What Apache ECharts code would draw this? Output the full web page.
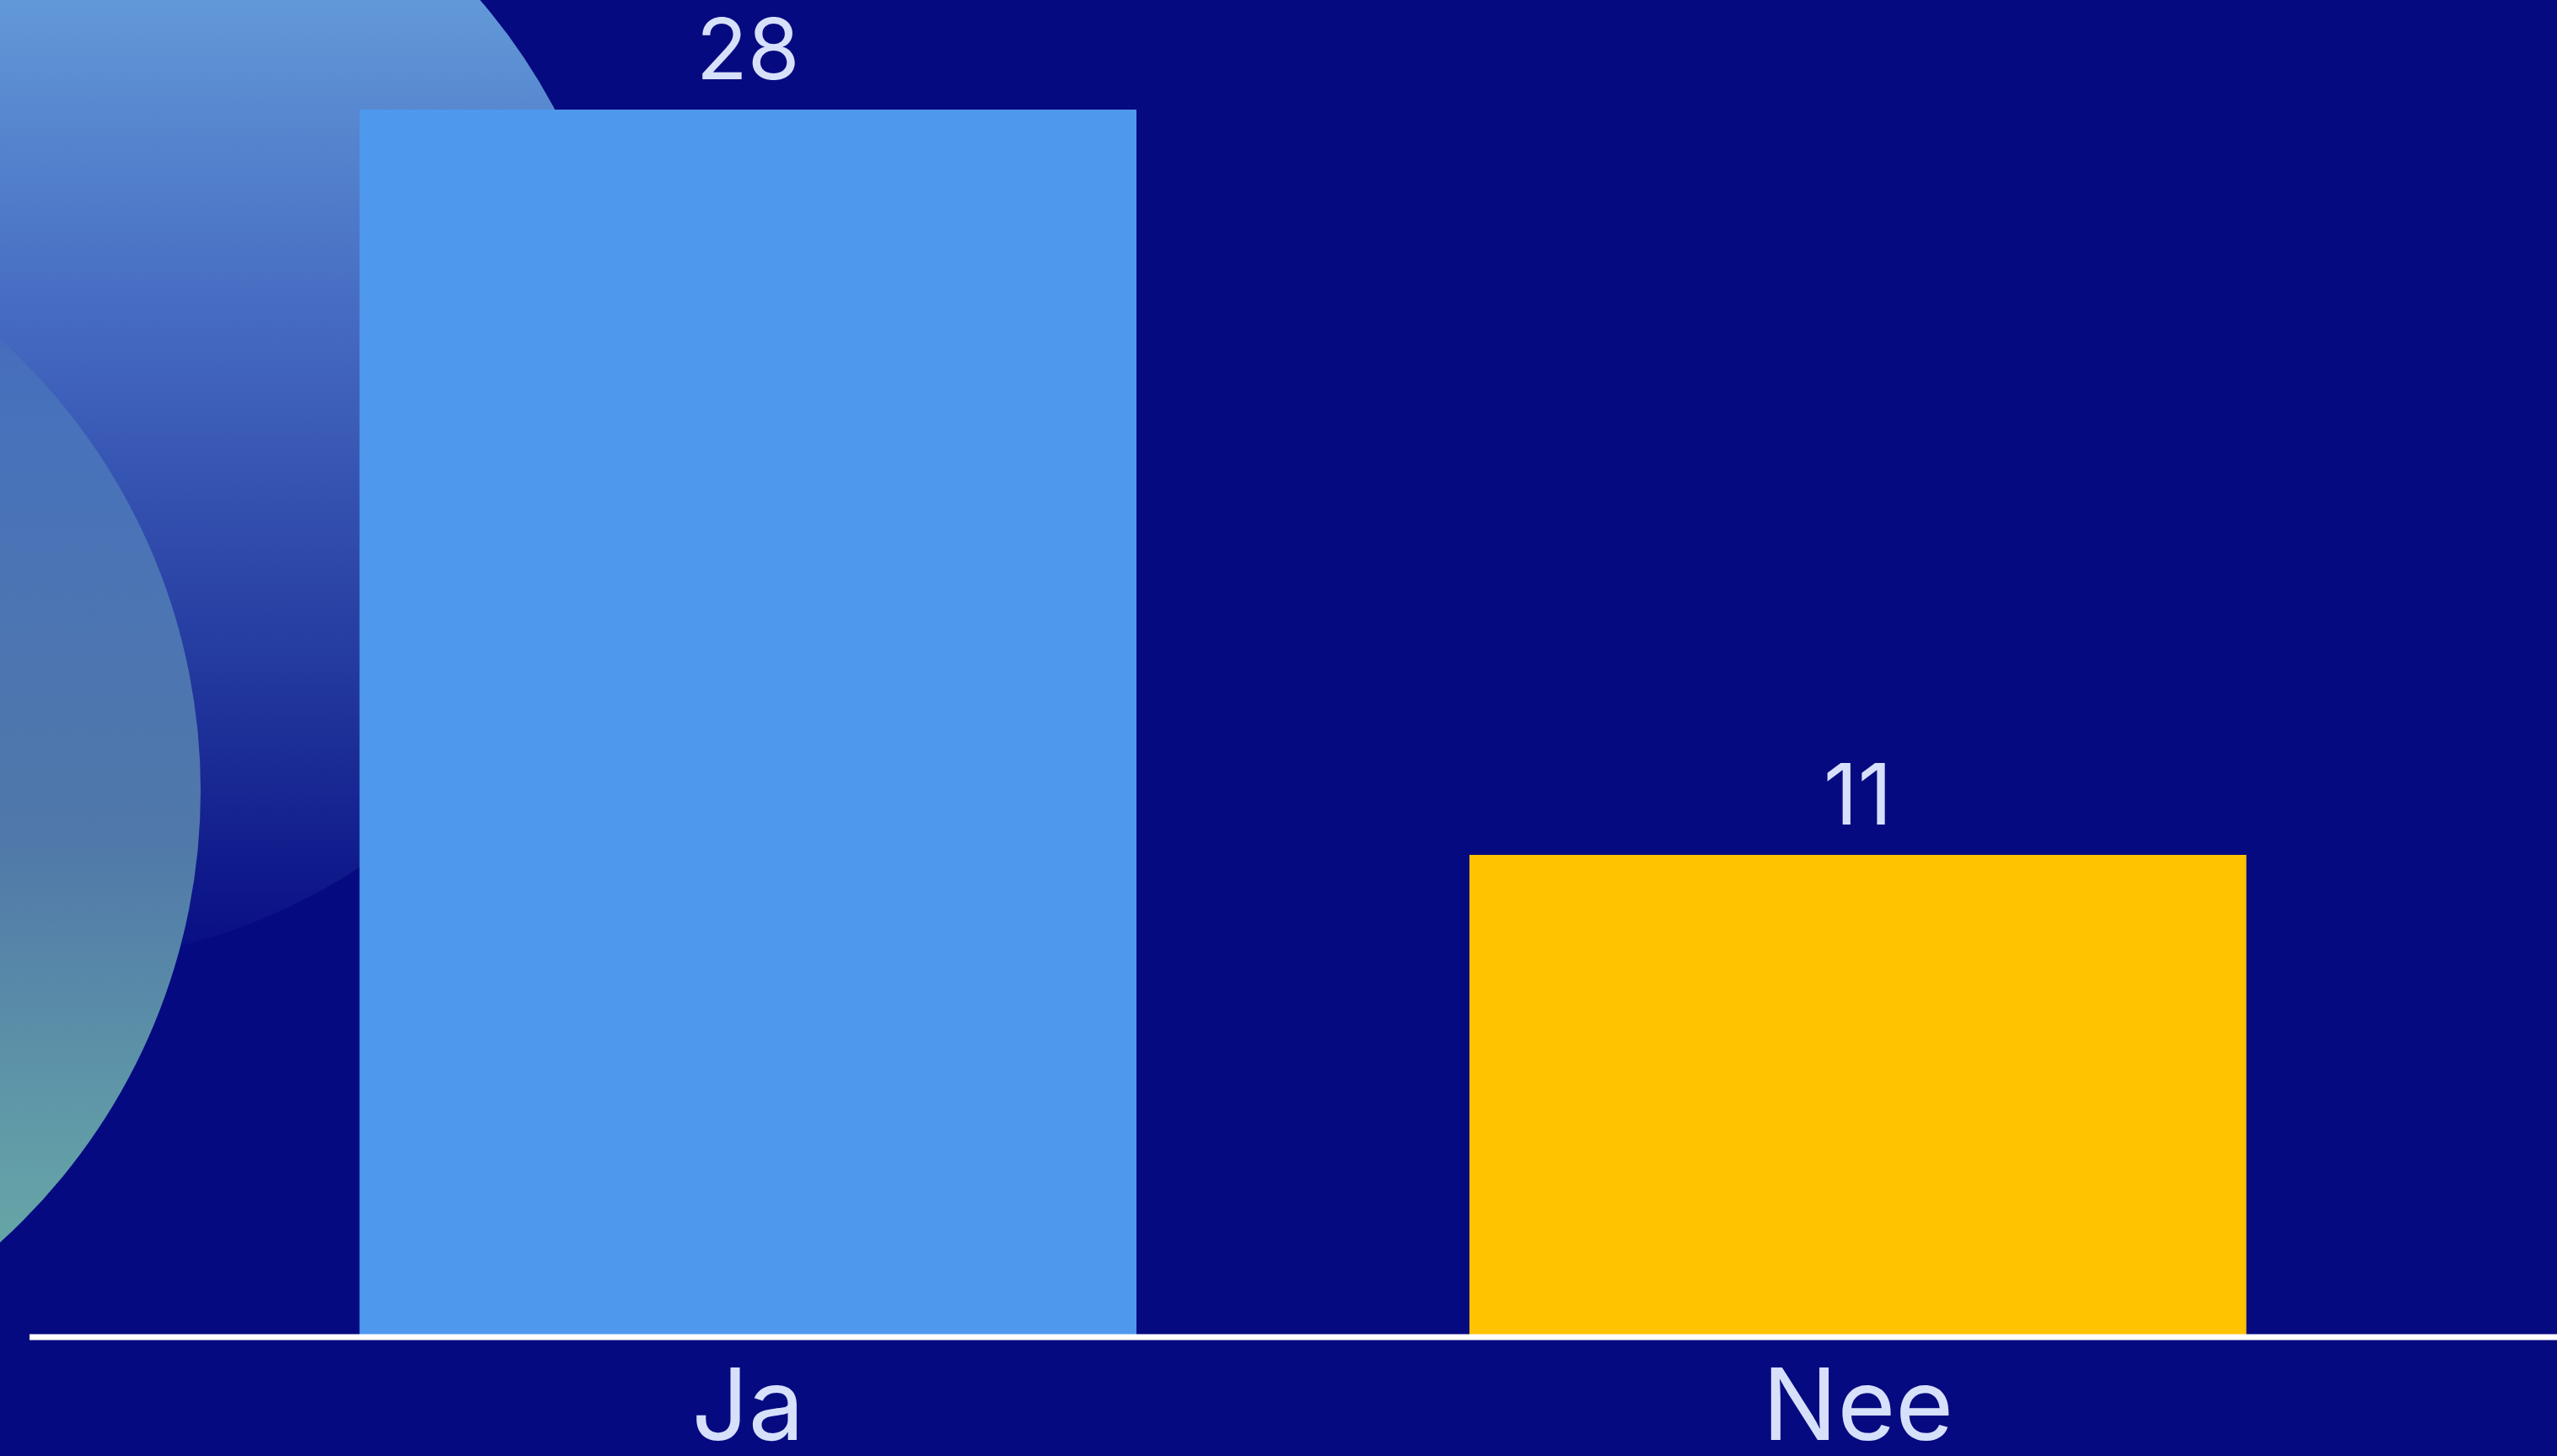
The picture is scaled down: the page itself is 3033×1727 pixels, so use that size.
<!DOCTYPE html>
<html>
<head>
<meta charset="utf-8">
<style>
html,body{margin:0;padding:0;background:#060a80;}
#chart{width:3033px;height:1727px;}
</style>
<script src="https://cdn.jsdelivr.net/npm/echarts@6/dist/echarts.min.js"></script>
</head>
<body>
<div id="chart"></div>
<script>
const categories = ['Ja', 'Nee'];
const values = [28, 11];
const barColors = ['#4e98ee', '#ffc300'];

const chart = echarts.init(document.getElementById('chart'), null, {renderer: 'canvas'});
const textColor = '#d6e0fa';
const fontFamily = 'Inter, Lato, "Noto Sans", sans-serif';

const option = {
  backgroundColor: '#060a80',
  animation: false,
  grid: {left: 229, right: 171, top: 130, bottom: 141, containLabel: false, outerBoundsMode: 'none'},
  xAxis: {
    type: 'category',
    data: categories,
    axisLine: {show: false},
    axisTick: {show: false},
    axisLabel: {color: textColor, fontSize: 118, fontFamily: fontFamily, fontWeight: 400, margin: 28}
  },
  yAxis: {
    type: 'value', min: 0, max: 28,
    show: false,
    splitLine: {show: false}
  },
  series: [{
    type: 'bar',
    z: 2,
    barCategoryGap: '30%',
    data: values.map((v, i) => ({value: v, itemStyle: {color: barColors[i]}})),
    label: {
      show: true, position: 'top', distance: 16,
      color: textColor, fontSize: 100, fontFamily: fontFamily, fontWeight: 400
    }
  }]
};
chart.setOption(option);

const y0 = chart.convertToPixel({yAxisIndex: 0}, 0);
chart.setOption({
  graphic: [
    {
      type: 'circle', z: 0, silent: true,
      shape: {cx: 48, cy: 452, r: 690},
      style: {
        fill: new echarts.graphic.LinearGradient(0, 0, 0, 1, [
          {offset: 0, color: '#74b2e6'},
          {offset: 0.17, color: '#6299d8'},
          {offset: 0.46, color: '#4468c0'},
          {offset: 0.75, color: '#23399e'},
          {offset: 1, color: '#070c82'}
        ])
      }
    },
    {
      type: 'circle', z: 1, silent: true,
      shape: {cx: -484, cy: 938, r: 722},
      style: {
        fill: new echarts.graphic.LinearGradient(0, 0, 0, 1, [
          {offset: 0, color: '#4264be'},
          {offset: 0.2, color: '#4872bb'},
          {offset: 0.54, color: '#5078a9'},
          {offset: 0.82, color: '#63a0a7'},
          {offset: 1, color: '#6cb0a8'}
        ])
      }
    },
    {
      type: 'line', z: 10, silent: true,
      shape: {x1: 35, y1: y0, x2: 3033, y2: y0},
      style: {stroke: '#ffffff', lineWidth: 7}
    }
  ]
});
</script>
</body>
</html>
